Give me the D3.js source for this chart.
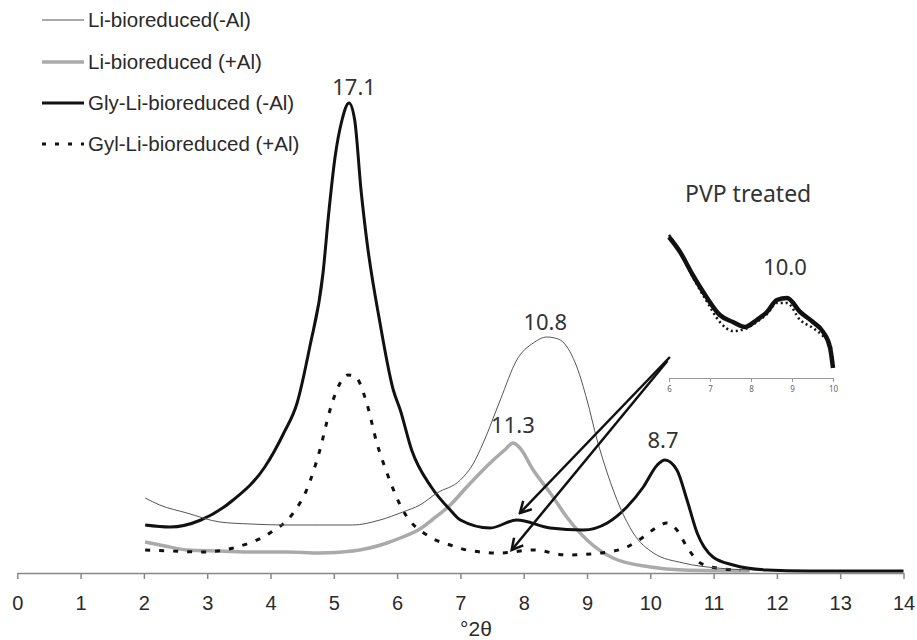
<!DOCTYPE html>
<html>
<head>
<meta charset="utf-8">
<script src="https://cdn.jsdelivr.net/npm/d3@7"></script>
<style>
  html, body { margin: 0; padding: 0; background: #fff; }
  svg { display: block; }
</style>
</head>
<body>
<svg id="chart"></svg>
<script>
// [2θ, intensity a.u.]
var liMinusAl = [
  [2.02, 74], [2.25, 67], [2.68, 59], [3.2, 50], [3.68, 48], [4.26, 47], [4.78, 47],
  [5.3, 47], [5.73, 52], [6.09, 60], [6.36, 67], [6.63, 79], [7.0, 92], [7.2, 108],
  [7.36, 129], [7.63, 172], [7.89, 212], [8.15, 229], [8.37, 235], [8.49, 234],
  [8.62, 230], [8.84, 205], [9.0, 172], [9.16, 132], [9.32, 99], [9.52, 65],
  [9.73, 39], [10.05, 19], [10.52, 9], [11.05, 4], [11.57, 2]
];
var liPlusAl = [
  [2.02, 30], [2.33, 26], [2.68, 22], [3.2, 21], [3.72, 20], [4.26, 20], [4.78, 19],
  [5.3, 21], [5.84, 29], [6.05, 34], [6.36, 43], [6.57, 53], [6.84, 67], [7.1, 85],
  [7.52, 112], [7.7, 122], [7.83, 129], [7.94, 124], [8.15, 102], [8.42, 79],
  [8.68, 55], [9.0, 32], [9.41, 14], [10.0, 5], [10.52, 2], [11.57, 1]
];
var glyMinusAl = [
  [2.02, 47], [2.41, 45], [2.9, 52], [3.41, 72], [3.91, 105], [4.21, 139], [4.42, 169],
  [4.62, 225], [4.83, 299], [4.92, 359], [5.02, 415], [5.13, 452], [5.24, 469],
  [5.33, 452], [5.43, 382], [5.52, 332], [5.73, 249], [5.94, 182], [6.05, 162],
  [6.23, 122], [6.54, 85], [6.84, 62], [7.0, 52], [7.47, 44], [7.89, 52], [8.42, 44],
  [8.94, 42], [9.32, 49], [9.63, 65], [9.89, 85], [10.11, 107], [10.23, 112],
  [10.42, 102], [10.58, 72], [10.74, 39], [10.99, 15], [11.31, 7], [11.84, 2],
  [12.5, 1], [13.2, 1], [14.0, 1]
];
var glyPlusAl = [
  [2.02, 22], [2.41, 21], [2.93, 20], [3.47, 25], [3.99, 39], [4.36, 59], [4.57, 82],
  [4.78, 122], [4.94, 162], [5.1, 189], [5.22, 197], [5.33, 196], [5.52, 169],
  [5.68, 129], [5.84, 99], [6.09, 62], [6.52, 35], [6.84, 27], [7.1, 22], [7.63, 19],
  [8.15, 22], [8.68, 17], [9.21, 19], [9.63, 25], [9.89, 35], [10.11, 45], [10.26, 49],
  [10.42, 42], [10.58, 25], [10.79, 9], [11.05, 4], [11.42, 2]
];

// PVP treated inset
var pvpMinusAl = [
  [6.0, 141], [6.27, 126], [6.58, 103], [6.93, 80], [7.24, 63], [7.56, 56], [7.85, 51],
  [8.14, 58], [8.39, 66], [8.63, 78], [8.88, 80], [9.2, 66], [9.51, 56], [9.76, 46],
  [9.93, 30], [10.0, 10]
];
var pvpPlusAl = [
  [6.0, 143], [6.27, 126], [6.58, 101], [6.93, 76], [7.24, 56], [7.56, 47], [7.85, 49],
  [8.14, 56], [8.39, 64], [8.63, 75], [8.88, 75], [9.2, 58], [9.51, 50], [9.76, 42],
  [9.93, 34], [10.0, 16]
];

var legendLabels = ["Li-bioreduced(-Al)", "Li-bioreduced (+Al)", "Gly-Li-bioreduced (-Al)", "Gyl-Li-bioreduced (+Al)"];
var xTicks = d3.range(0, 15);
var insetTicks = [6, 7, 8, 9, 10];

// peak d-spacings: [text, 2θ, intensity]
var peakLabels = [["17.1", 5.32, 477], ["10.8", 8.34, 242], ["11.3", 7.83, 139], ["8.7", 10.2, 124]];
// arrows from the inset down to the 10.0 peak region: [x1, y1, x2, y2]
var arrows = [[10.31, 215, 7.94, 59], [10.27, 211, 7.81, 22]];

var width = 917, height = 640;
var svg = d3.select("#chart").attr("width", width).attr("height", height);

var x = d3.scaleLinear().domain([0, 14]).range([17.3, 903.5]);
var y = d3.scaleLinear().domain([0, 470]).range([572, 102]);

var ix = d3.scaleLinear().domain([6, 10]).range([669, 833]);
var iy = d3.scaleLinear().domain([0, 150]).range([378, 228]);

var styles = [
  { color: "#555", width: 1, dash: null },
  { color: "#aaa", width: 3.5, dash: null },
  { color: "#111", width: 3, dash: null },
  { color: "#111", width: 3, dash: "5,9" }
];
var series = [liMinusAl, liPlusAl, glyMinusAl, glyPlusAl];

var line = d3.line()
  .x(function(d) { return x(d[0]); })
  .y(function(d) { return y(d[1]); })
  .curve(d3.curveMonotoneX);

// x axis
var axis = svg.append("g")
  .attr("transform", "translate(0," + (y(0) + 1) + ")")
  .call(d3.axisBottom(x).tickValues(xTicks).tickSize(6).tickSizeOuter(0).tickPadding(17));
axis.select(".domain").attr("stroke", "#888").attr("stroke-width", 1.5);
axis.selectAll(".tick line").attr("stroke", "#888").attr("stroke-width", 1.5);
axis.selectAll(".tick text")
  .attr("fill", "#2a2a2a")
  .style("font-family", "'Liberation Sans', Arial, sans-serif")
  .style("font-size", "20px");

svg.append("text")
  .attr("x", 476).attr("y", 636)
  .attr("text-anchor", "middle")
  .attr("fill", "#2a2a2a")
  .style("font-family", "'Liberation Sans', Arial, sans-serif")
  .style("font-size", "21px")
  .text("°2θ");

// curves (thin one on top like the original)
var drawOrder = [1, 3, 2, 0];
drawOrder.forEach(function(i) {
  svg.append("path")
    .datum(series[i])
    .attr("d", line)
    .attr("fill", "none")
    .attr("stroke", styles[i].color)
    .attr("stroke-width", styles[i].width)
    .attr("stroke-dasharray", styles[i].dash)
    .attr("stroke-linejoin", "round");
});

// legend
var legend = svg.append("g");
var legendY = [20, 62, 103, 144];
legendLabels.forEach(function(label, i) {
  legend.append("line")
    .attr("x1", 42).attr("x2", 84)
    .attr("y1", legendY[i]).attr("y2", legendY[i])
    .attr("stroke", styles[i].color)
    .attr("stroke-width", styles[i].width)
    .attr("stroke-dasharray", i == 3 ? "4,9" : null);
  legend.append("text")
    .attr("x", 88).attr("y", legendY[i] + 7)
    .attr("fill", "#2a2a2a")
    .style("font-family", "'Liberation Sans', Arial, sans-serif")
    .style("font-size", "20.5px")
    .text(label);
});

// peak labels
svg.selectAll(".peak")
  .data(peakLabels)
  .enter().append("text")
  .attr("class", "peak")
  .attr("x", function(d) { return x(d[1]); })
  .attr("y", function(d) { return y(d[2]); })
  .attr("text-anchor", "middle")
  .attr("fill", "#333")
  .style("font-family", "'Noto Sans', sans-serif")
  .style("font-size", "22px")
  .text(function(d) { return d[0]; });

// arrows
svg.append("defs").append("marker")
  .attr("id", "head")
  .attr("viewBox", "0 0 14 14")
  .attr("refX", 12).attr("refY", 7)
  .attr("markerWidth", 14).attr("markerHeight", 14)
  .attr("markerUnits", "userSpaceOnUse")
  .attr("orient", "auto")
  .append("path")
  .attr("d", "M1,1 L12,7 L1,13")
  .attr("fill", "none")
  .attr("stroke", "#111")
  .attr("stroke-width", 2.5);

svg.selectAll(".arrow")
  .data(arrows)
  .enter().append("line")
  .attr("class", "arrow")
  .attr("x1", function(d) { return x(d[0]); })
  .attr("y1", function(d) { return y(d[1]); })
  .attr("x2", function(d) { return x(d[2]); })
  .attr("y2", function(d) { return y(d[3]); })
  .attr("stroke", "#111")
  .attr("stroke-width", 2.5)
  .attr("marker-end", "url(#head)");

// inset
var inset = svg.append("g");
var iaxis = inset.append("g")
  .attr("transform", "translate(0," + iy(0) + ")")
  .call(d3.axisBottom(ix).tickValues(insetTicks).tickFormat(d3.format("d"))
    .tickSize(4).tickSizeOuter(0).tickPadding(4));
iaxis.select(".domain").attr("stroke", "#999").attr("stroke-width", 1);
iaxis.selectAll(".tick line").attr("stroke", "#999");
iaxis.selectAll(".tick text")
  .attr("fill", "#666")
  .style("font-family", "'Noto Sans', sans-serif")
  .style("font-size", "8px");

var iline = d3.line()
  .x(function(d) { return ix(d[0]); })
  .y(function(d) { return iy(d[1]); })
  .curve(d3.curveMonotoneX);

inset.append("path")
  .datum(pvpPlusAl)
  .attr("d", iline)
  .attr("fill", "none")
  .attr("stroke", "#111")
  .attr("stroke-width", 2.5)
  .attr("stroke-dasharray", "2,3");

inset.append("path")
  .datum(pvpMinusAl)
  .attr("d", iline)
  .attr("fill", "none")
  .attr("stroke", "#111")
  .attr("stroke-width", 4.5)
  .attr("stroke-linejoin", "round");

inset.append("text")
  .attr("x", ix(8.83)).attr("y", iy(103))
  .attr("text-anchor", "middle")
  .attr("fill", "#333")
  .style("font-family", "'Noto Sans', sans-serif")
  .style("font-size", "22px")
  .text("10.0");

inset.append("text")
  .attr("x", ix(7.93)).attr("y", iy(176))
  .attr("text-anchor", "middle")
  .attr("fill", "#333")
  .style("font-family", "'Noto Sans', sans-serif")
  .style("font-size", "23px")
  .text("PVP treated");
</script>
</body>
</html>
